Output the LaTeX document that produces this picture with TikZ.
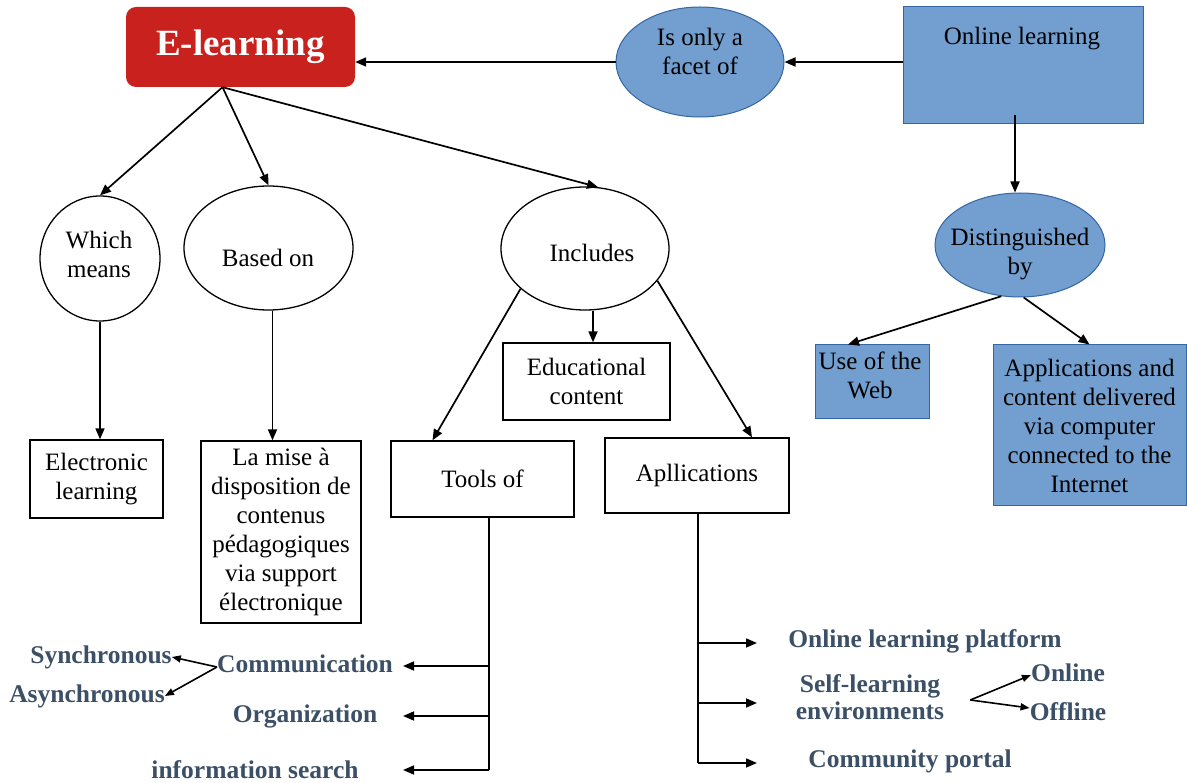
\documentclass[tikz,border=0pt]{standalone}
\usepackage{fontspec}
\setmainfont{Liberation Serif}
\usetikzlibrary{shapes.geometric,arrows.meta}
\definecolor{ered}{HTML}{C9211E}
\definecolor{bfill}{HTML}{729FCF}
\definecolor{bline}{HTML}{3465A4}
\definecolor{slate}{HTML}{3B4F66}
\begin{document}
\begin{tikzpicture}[x=1pt,y=-1pt,
 box/.style={draw=black,line width=1.3pt,rectangle,inner sep=0pt,font=\fontsize{25}{29}\selectfont,align=center},
 bbox/.style={draw=bline,fill=bfill,line width=1pt,rectangle,inner sep=0pt,font=\fontsize{25}{29}\selectfont,align=center},
 oval/.style={draw=black,line width=1.3pt,ellipse,inner sep=0pt},
 boval/.style={draw=bline,fill=bfill,line width=1pt,ellipse,inner sep=0pt},
 txt/.style={font=\fontsize{25}{29}\selectfont,align=center,inner sep=0pt},
 btxt/.style={font=\fontsize{25.5}{27}\selectfont\bfseries,text=slate,align=center,inner sep=0pt},
 arr/.style={line width=1.7pt,-{Triangle[length=11pt,width=9pt]}},
 sarr/.style={line width=1.6pt,-{Triangle[length=9pt,width=7pt]}},
 ln/.style={line width=1.7pt}]
\useasboundingbox (0,0) rectangle (1187,783);

% ---- top
\node[fill=ered,rounded corners=10pt,minimum width=229pt,minimum height=80pt,inner sep=0pt,
      text=white,font=\fontsize{37}{40}\selectfont\bfseries] (el) at (240.5,47) {E-learning};
\node[boval,minimum width=168pt,minimum height=110pt] (facet) at (700,62) {};
\node[txt] (facett) at (700,51.5) {Is only a\\facet of};
\node[bbox,minimum width=240pt,minimum height=117pt] (ol) at (1023,65.5) {};
\node[txt] (olt) at (1022,39) {Online learning};

\coordinate (elr) at (el.east |- facet.west);
\draw[arr] (ol.west |- facet.east) -- (facet.east);
\draw[arr] (facet.west) -- (elr);

% ---- right
\node[boval,minimum width=170pt,minimum height=104pt] (dist) at (1020,245) {};
\node[txt] (distt) at (1020,254) {Distinguished\\by};
\coordinate (ols) at (1015,115);
\draw[arr] (ols) -- (ols |- dist.north);
\node[bbox,minimum width=114pt,minimum height=74pt] (web) at (872,382) {};
\node[txt] (webt) at (870,375.5) {Use of the\\Web};
\node[bbox,minimum width=193pt,minimum height=161pt] (appi) at (1089.5,425.5)
  {Applications and\\content delivered\\via computer\\connected to the\\Internet};
\draw[arr] (dist.250) -- ([xshift=-24pt]web.north);
\draw[arr] (dist.274) -- (appi.north);

% ---- left ellipses
\node[oval,minimum width=120pt,minimum height=125pt] (which) at (100,258.5) {};
\node[txt] (whicht) at (99,254.5) {Which\\means};
\node[oval,minimum width=169pt,minimum height=124pt] (based) at (268.5,248) {};
\node[txt] (basedt) at (268,258) {Based on};
\node[oval,minimum width=168pt,minimum height=123pt] (incl) at (585,248.5) {};
\node[txt] (inclt) at (592,253) {Includes};

\coordinate (elb) at ([xshift=-18pt]el.south);
\draw[arr] (elb) -- (which.north);
\draw[arr] (elb) -- (based.north);
\draw[arr] (elb) -- (incl.78);

% ---- boxes
\node[box,minimum width=133pt,minimum height=78pt] (elec) at (96.5,479) {Electronic\\learning};
\node[box,minimum width=160pt,minimum height=182pt] (mise) at (281,532)
  {La mise \`a\\disposition de\\contenus\\p\'edagogiques\\via support\\\'electronique};
\node[box,minimum width=167pt,minimum height=77pt] (edu) at (586.5,381.5) {Educational\\content};
\node[box,minimum width=183pt,minimum height=76pt] (tools) at (482.5,479) {Tools of};
\node[box,minimum width=184pt,minimum height=75pt] (appl) at (697,475.5) {Apllications};

\draw[arr] (which.south) -- (which.south |- elec.north);
\coordinate (bs) at ([xshift=4pt]based.south);
\draw[arr] (bs) -- (bs |- mise.north);
\coordinate (is) at ([xshift=8pt]incl.south);
\draw[arr] (is) -- (is |- edu.north);
\draw[arr] (incl.212) -- ([xshift=-50pt]tools.north);
\draw[arr] (incl.336) -- ([xshift=55pt]appl.north);

% ---- tools branches
\node[btxt] (comm) at (305,664) {Communication};
\node[btxt] (org) at (305,716) {Organization};
\node[btxt] (info) at (255,770) {information search};
\node[btxt] (sync) at (101,657) {Synchronous};
\node[btxt] (async) at (87,696) {Asynchronous};
\coordinate (ts) at ([xshift=6.5pt]tools.south);
\draw[ln] (ts) -- (ts |- info.east);
\draw[arr] ([yshift=-2pt]ts |- comm.east) -- +(-86,0);
\draw[arr] (ts |- org.east) -- +(-86,0);
\draw[arr] (ts |- info.east) -- +(-86,0);
\draw[sarr] ([yshift=-3pt]comm.west) -- (sync.east);
\draw[sarr] ([yshift=-3pt]comm.west) -- (async.east);

% ---- applications branches
\node[btxt] (olp) at (925,641) {Online learning platform};
\node[btxt] (self) at (870,697.5) {Self-learning\\environments};
\node[btxt] (comp) at (910,761) {Community portal};
\node[btxt] (on) at (1068,673) {Online};
\node[btxt] (off) at (1068,712) {Offline};
\coordinate (as) at ([xshift=1pt]appl.south);
\draw[ln] (as) -- ([yshift=-2pt]as |- comp.west);
\draw[arr] ([yshift=-2pt]as |- olp.west) -- +(59,0);
\draw[arr] ([yshift=-5.5pt]as |- self.west) -- +(59,0);
\draw[arr] ([yshift=-2pt]as |- comp.west) -- +(59,0);
\coordinate (sf) at ([xshift=26pt,yshift=-2.5pt]self.east);
\draw[sarr] (sf) -- ([yshift=-2pt]on.west);
\draw[sarr] (sf) -- ([yshift=4pt]off.west);
\end{tikzpicture}
\end{document}
